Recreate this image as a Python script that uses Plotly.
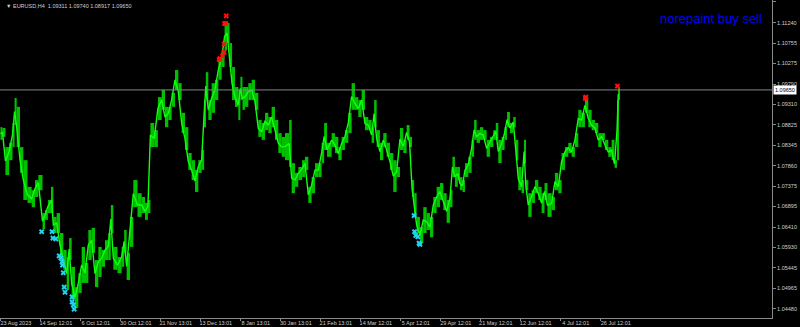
import plotly.graph_objects as go

# ---- data ----
bars = [1, 6, 13, 22, 30, 35, 40, 48, 56, 66, 76, 84, 92, 102, 108, 115, 124, 128, 136, 144,
        152, 160, 166, 172, 180, 188, 196, 204, 212, 220, 228, 236, 244, 252, 260, 266, 272, 282, 292, 298,
        304, 312, 320, 330, 340, 348, 355, 361, 370, 379, 388, 396, 404, 412, 420, 428, 436, 444, 452, 460,
        468, 476, 484, 490, 494, 500, 508, 516, 524, 532, 539, 545, 551, 557, 564, 572, 577, 582, 588, 596,
        604, 612, 620, 628, 636, 644, 652, 660, 668, 676, 684, 694, 700, 708, 716, 725, 732, 740, 748, 756,
        764, 772, 778, 785, 796, 804, 812, 820, 828, 836, 844, 852, 860, 868, 876, 884, 892, 898, 904, 912,
        920, 928, 936, 944, 952, 960, 968, 976, 983, 989, 994, 1000, 1008, 1016, 1024, 1032, 1040, 1048, 1056, 1064,
        1072, 1080, 1086, 1092, 1099, 1104, 1110, 1116, 1124, 1132, 1138, 1144, 1152, 1160, 1168, 1176, 1184, 1190, 1196, 1204,
        1211, 1217, 1224, 1232, 1238, 1244, 1252, 1258, 1262, 1268, 1276, 1284, 1292, 1300, 1307, 1314, 1324, 1332, 1340, 1348,
        1356, 1364, 1372, 1380, 1388, 1396, 1404, 1412, 1420, 1428, 1436, 1444, 1452, 1460, 1468, 1475, 1481, 1484]

highs = [1.0877, 1.0875, 1.0830, 1.0840, 1.0887, 1.0946, 1.0925, 1.0830, 1.0799, 1.0736, 1.0728, 1.0752, 1.0764, 1.0674, 1.0681, 1.0705, 1.0736, 1.0665, 1.0674, 1.0627,
         1.0587, 1.0570, 1.0615, 1.0547, 1.0499, 1.0532, 1.0594, 1.0556, 1.0634, 1.0639, 1.0563, 1.0594, 1.0587, 1.0610, 1.0627, 1.0693, 1.0594, 1.0570, 1.0594, 1.0634,
         1.0580, 1.0665, 1.0752, 1.0721, 1.0712, 1.0698, 1.0705, 1.0887, 1.0870, 1.0948, 1.0965, 1.0925, 1.0925, 1.0958, 1.1012, 1.0981, 1.0911, 1.0877, 1.0816, 1.0799,
         1.0776, 1.0799, 1.0823, 1.0941, 1.1007, 1.0941, 1.0981, 1.0989, 1.1036, 1.1059, 1.1123, 1.1123, 1.1076, 1.1019, 1.0972, 1.0965, 1.0996, 1.0972, 1.0972, 1.0981,
         1.0989, 1.0958, 1.0894, 1.0887, 1.0911, 1.0901, 1.0925, 1.0894, 1.0863, 1.0854, 1.0863, 1.0894, 1.0792, 1.0769, 1.0783, 1.0799, 1.0807, 1.0736, 1.0759, 1.0792,
         1.0792, 1.0840, 1.0887, 1.0840, 1.0863, 1.0854, 1.0830, 1.0854, 1.0870, 1.0911, 1.0981, 1.0948, 1.0941, 1.0965, 1.0901, 1.0894, 1.0877, 1.0941, 1.0870, 1.0840,
         1.0863, 1.0840, 1.0816, 1.0799, 1.0783, 1.0875, 1.0847, 1.0882, 1.0854, 1.0752, 1.0721, 1.0665, 1.0641, 1.0688, 1.0674, 1.0665, 1.0712, 1.0736, 1.0745, 1.0721,
         1.0705, 1.0728, 1.0807, 1.0783, 1.0783, 1.0759, 1.0752, 1.0792, 1.0807, 1.0847, 1.0894, 1.0870, 1.0877, 1.0870, 1.0847, 1.0854, 1.0870, 1.0887, 1.0847, 1.0854,
         1.0877, 1.0913, 1.0887, 1.0901, 1.0847, 1.0783, 1.0752, 1.0847, 1.0752, 1.0721, 1.0728, 1.0752, 1.0736, 1.0721, 1.0745, 1.0721, 1.0712, 1.0769, 1.0752, 1.0816,
         1.0830, 1.0840, 1.0830, 1.0863, 1.0918, 1.0911, 1.0946, 1.0918, 1.0894, 1.0887, 1.0863, 1.0863, 1.0847, 1.0830, 1.0847, 1.0799, 1.0941, 1.0970]

lows = [1.0847, 1.0854, 1.0764, 1.0799, 1.0830, 1.0882, 1.0830, 1.0769, 1.0705, 1.0698, 1.0688, 1.0712, 1.0728, 1.0636, 1.0658, 1.0674, 1.0674, 1.0627, 1.0627, 1.0570,
        1.0540, 1.0492, 1.0563, 1.0469, 1.0450, 1.0485, 1.0509, 1.0509, 1.0563, 1.0580, 1.0499, 1.0523, 1.0547, 1.0563, 1.0563, 1.0627, 1.0540, 1.0532, 1.0547, 1.0580,
        1.0516, 1.0594, 1.0688, 1.0665, 1.0674, 1.0658, 1.0674, 1.0830, 1.0830, 1.0894, 1.0918, 1.0877, 1.0894, 1.0925, 1.0965, 1.0941, 1.0863, 1.0823, 1.0776, 1.0752,
        1.0724, 1.0769, 1.0776, 1.0877, 1.0941, 1.0894, 1.0911, 1.0941, 1.0989, 1.1019, 1.1059, 1.1076, 1.1019, 1.0941, 1.0925, 1.0894, 1.0941, 1.0918, 1.0925, 1.0941,
        1.0941, 1.0918, 1.0854, 1.0847, 1.0870, 1.0863, 1.0877, 1.0847, 1.0816, 1.0807, 1.0799, 1.0783, 1.0721, 1.0736, 1.0752, 1.0759, 1.0776, 1.0698, 1.0721, 1.0759,
        1.0759, 1.0792, 1.0823, 1.0807, 1.0830, 1.0816, 1.0799, 1.0823, 1.0840, 1.0863, 1.0918, 1.0918, 1.0901, 1.0918, 1.0870, 1.0870, 1.0840, 1.0877, 1.0830, 1.0799,
        1.0830, 1.0807, 1.0776, 1.0724, 1.0759, 1.0823, 1.0816, 1.0847, 1.0830, 1.0712, 1.0665, 1.0627, 1.0603, 1.0627, 1.0634, 1.0617, 1.0674, 1.0688, 1.0705, 1.0681,
        1.0651, 1.0688, 1.0759, 1.0736, 1.0752, 1.0728, 1.0724, 1.0759, 1.0769, 1.0807, 1.0847, 1.0840, 1.0847, 1.0847, 1.0807, 1.0830, 1.0847, 1.0847, 1.0792, 1.0823,
        1.0847, 1.0877, 1.0863, 1.0877, 1.0799, 1.0728, 1.0721, 1.0792, 1.0728, 1.0665, 1.0698, 1.0721, 1.0705, 1.0674, 1.0705, 1.0665, 1.0681, 1.0728, 1.0721, 1.0776,
        1.0807, 1.0816, 1.0807, 1.0830, 1.0877, 1.0877, 1.0911, 1.0877, 1.0870, 1.0863, 1.0830, 1.0847, 1.0823, 1.0807, 1.0799, 1.0781, 1.0799, 1.0941]

buy_bars = [100, 125, 127, 134, 142, 146, 149, 150, 152, 154, 156, 173, 173, 176, 178,
            994, 995, 998, 1003, 1006, 1008]
buy_prices = [1.0630, 1.0630, 1.0615, 1.0613, 1.0573, 1.0568, 1.0559, 1.0551, 1.0533, 1.0499, 1.0487,
              1.0476, 1.0464, 1.0457, 1.0447,
              1.0668, 1.0630, 1.0621, 1.0618, 1.0603, 1.0600]

sell_bars = [543, 539, 542, 538, 538, 534, 528, 526, 1405, 1406, 1482]
sell_prices = [1.1140, 1.1122, 1.1122, 1.1073, 1.1054, 1.1045, 1.1039, 1.1037, 1.0945, 1.0948, 1.0974]

x_tick_bars = [2, 98, 194, 290, 386, 482, 578, 674, 770, 866, 962, 1058, 1154, 1250, 1346, 1442]
x_tick_labels = ["23 Aug 2023", "14 Sep 12:01", "6 Oct 12:01", "30 Oct 12:01", "21 Nov 13:01",
                 "13 Dec 13:01", "8 Jan 13:01", "30 Jan 13:01", "21 Feb 13:01", "14 Mar 12:01",
                 "5 Apr 12:01", "29 Apr 12:01", "21 May 12:01", "12 Jun 12:01", "4 Jul 12:01",
                 "26 Jul 12:01"]

y_ticks = [1.11735, 1.11240, 1.10755, 1.10275, 1.09790, 1.09310, 1.08825, 1.08345,
           1.07860, 1.07375, 1.06895, 1.06410, 1.05930, 1.05445, 1.04965, 1.04480]
y_tick_labels = ["%.5f" % v for v in y_ticks]

current_price = 1.09650
header = "EURUSD,H4  1.09311 1.09740 1.08917 1.09650"
title_text = "norepaint buy sell"

# ---- figure ----
FONT = "Liberation Sans, Arial, sans-serif"
GRAY = "#8a8a8a"
TXT = "#d0d0d0"

spans = [h - l for h, l in zip(highs, lows)]
mids = [(h + l) / 2 for h, l in zip(highs, lows)]
# bar widths fill the gap to the next sample
widths = [max(b2 - b1, 3) for b1, b2 in zip(bars[:-1], bars[1:])] + [4]

fig = go.Figure()
fig.add_trace(go.Bar(x=bars, y=spans, base=lows, width=widths, offset=0,
                     marker=dict(color="#00c000", line=dict(width=0)),
                     hoverinfo="skip"))
fig.add_trace(go.Scatter(x=bars, y=mids, mode="lines",
                         line=dict(color="#10ff10", width=1.4),
                         hoverinfo="skip"))
fig.add_trace(go.Scatter(x=buy_bars, y=buy_prices, mode="markers",
                         marker=dict(symbol="x", size=5, color="#22d3f0", line=dict(width=0)),
                         hoverinfo="skip"))
fig.add_trace(go.Scatter(x=sell_bars, y=sell_prices, mode="markers",
                         marker=dict(symbol="x", size=5, color="#ff1010", line=dict(width=0)),
                         hoverinfo="skip"))

fig.add_shape(type="line", xref="paper", yref="y", x0=0, x1=1,
              y0=current_price, y1=current_price, line=dict(color="#80858c", width=1))

fig.add_annotation(xref="paper", yref="y", x=1.001, y=current_price, xanchor="left",
                   yanchor="middle", text="%.5f" % current_price, showarrow=False,
                   bgcolor="#ffffff", font=dict(family=FONT, size=5.5, color="#000000"),
                   borderpad=1)
fig.add_annotation(xref="paper", yref="paper", x=4 / 772, y=1 - 5.5 / 318, xanchor="left",
                   yanchor="middle", text="▼ " + header, showarrow=False,
                   font=dict(family=FONT, size=5.5, color=TXT))
fig.add_annotation(xref="paper", yref="paper", x=764 / 772, y=1 - 18.3 / 318, xanchor="right",
                   yanchor="middle", text=title_text, showarrow=False,
                   font=dict(family=FONT, size=13, color="#0000ff"))

fig.update_layout(
    width=800, height=327,
    margin=dict(l=0, r=28, t=0, b=9, autoexpand=False),
    paper_bgcolor="#000000", plot_bgcolor="#000000",
    showlegend=False, hovermode=False,
    xaxis=dict(range=[0, 1853], tickvals=x_tick_bars, ticktext=x_tick_labels,
               showgrid=False, zeroline=False, showline=True, linecolor=GRAY, linewidth=1,
               mirror=True, ticks="outside", ticklen=2, tickcolor=GRAY,
               tickfont=dict(family=FONT, size=5.5, color=TXT), ticklabelshift=15,
               ticklabelstandoff=-3, automargin=False),
    yaxis=dict(range=[1.04261, 1.11775], tickvals=y_ticks, ticktext=y_tick_labels,
               side="right", showgrid=False, zeroline=False, showline=True, linecolor=GRAY,
               linewidth=1, mirror=True, ticks="outside", ticklen=3, tickcolor=GRAY,
               tickfont=dict(family=FONT, size=5.5, color=TXT), automargin=False),
)

fig.write_html("out.html")
